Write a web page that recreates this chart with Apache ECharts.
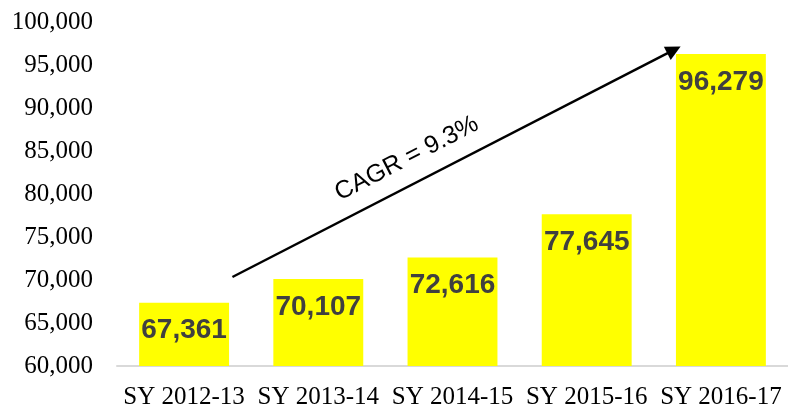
<!DOCTYPE html>
<html>
<head>
<meta charset="utf-8">
<script src="https://cdn.jsdelivr.net/npm/echarts@6/dist/echarts.min.js"></script>
<style>
  html, body { margin: 0; padding: 0; background: #fff; }
  #chart { width: 788px; height: 407px; }
</style>
</head>
<body>
<div id="chart"></div>
<script>
  // school years and enrolment
  const years = ['SY 2012-13', 'SY 2013-14', 'SY 2014-15', 'SY 2015-16', 'SY 2016-17'];
  const values = [67361, 70107, 72616, 77645, 96279];
  const cagrText = 'CAGR = 9.3%';
  // arrow ends, in category position / value units
  const arrowFrom = [0.36, 70350];
  const arrowTo = [3.65, 96750];

  const chart = echarts.init(document.getElementById('chart'));
  chart.setOption({
    animation: false,
    grid: { left: 117, right: 0, top: 22, bottom: 41, outerBoundsMode: 'none' },
    xAxis: [{
      type: 'category',
      data: years,
      axisLine: { lineStyle: { color: '#d9d9d9', width: 2 } },
      axisTick: { show: false },
      axisLabel: {
        interval: 0,
        hideOverlap: false,
        color: '#000',
        fontFamily: 'Liberation Serif',
        fontSize: 25,
        margin: 19
      }
    }, {
      // hidden helper axis for the arrow
      type: 'value',
      min: -0.5,
      max: 4.5,
      show: false
    }],
    yAxis: {
      type: 'value',
      min: 60000,
      max: 100000,
      interval: 5000,
      axisLine: { show: false },
      axisTick: { show: false },
      splitLine: { show: false },
      axisLabel: {
        color: '#000',
        fontFamily: 'Liberation Serif',
        fontSize: 25,
        margin: 24,
        formatter: v => v.toLocaleString('en-US')
      }
    },
    series: [{
      type: 'bar',
      data: values,
      barWidth: '67%',
      itemStyle: { color: '#ffff00' },
      label: {
        show: true,
        position: 'insideTop',
        distance: 14,
        color: '#404040',
        fontFamily: 'Liberation Sans',
        fontWeight: 'bold',
        fontSize: 28,
        formatter: p => p.value.toLocaleString('en-US')
      }
    }, {
      type: 'line',
      xAxisIndex: 1,
      data: [],
      markLine: {
        silent: true,
        symbol: ['none', 'triangle'],
        symbolSize: [15, 15],
        lineStyle: { color: '#000', width: 2.5, type: 'solid' },
        label: {
          show: true,
          position: 'insideMiddleTop',
          distance: 13,
          color: '#000',
          fontFamily: 'Liberation Sans',
          fontSize: 25,
          padding: [0, 78, 0, 0],
          formatter: cagrText
        },
        data: [[{ coord: arrowFrom }, { coord: arrowTo }]]
      }
    }]
  });
</script>
</body>
</html>
